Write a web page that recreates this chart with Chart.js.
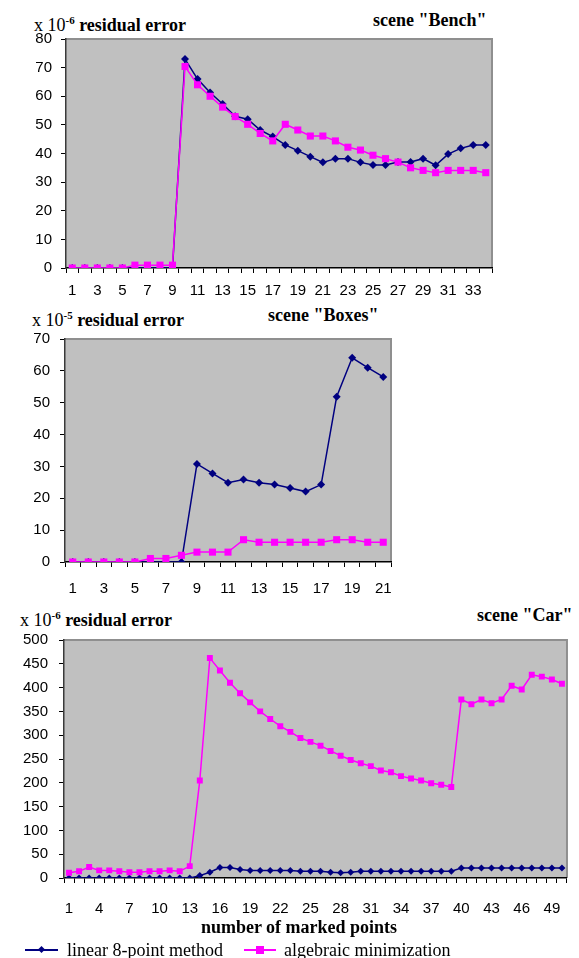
<!DOCTYPE html>
<html>
<head>
<meta charset="utf-8">
<script src="https://cdn.jsdelivr.net/npm/chart.js@4.4.1/dist/chart.umd.min.js"></script>
<style>
  html, body { margin: 0; padding: 0; background: #fff; }
  body { width: 579px; height: 958px; position: relative; overflow: hidden; }
  .box { position: absolute; }
  .txt { position: absolute; font-family: "Liberation Serif", "DejaVu Serif", serif; font-size: 18px; line-height: 18px; color: #000; white-space: nowrap; }
  .txt sup { font-size: 11px; font-weight: bold; vertical-align: 7px; }
  .bold { font-weight: bold; }
  .lg-line { position: absolute; height: 2px; }
  .lg-mark { position: absolute; }
</style>
</head>
<body>

<div class="txt" style="left:34px; top:11px;">x 10<sup>-6</sup> <b>residual error</b></div>
<div class="txt bold" style="left:373px; top:11px;">scene "Bench"</div>
<div class="box" style="left:0; top:0; width:579px; height:300px;"><canvas id="bench"></canvas></div>

<div class="txt" style="left:32px; top:306px;">x 10<sup>-5</sup> <b>residual error</b></div>
<div class="txt bold" style="left:268px; top:306px;">scene "Boxes"</div>
<div class="box" style="left:0; top:320px; width:420px; height:275px;"><canvas id="boxes"></canvas></div>

<div class="txt" style="left:20px; top:606px;">x 10<sup>-6</sup> <b>residual error</b></div>
<div class="txt bold" style="left:477px; top:606px;">scene "Car"</div>
<div class="box" style="left:0; top:620px; width:579px; height:300px;"><canvas id="car"></canvas></div>

<div class="txt bold" style="left:0; width:598px; text-align:center; top:918px;">number of marked points</div>

<div class="lg-line" style="left:25px; top:949px; width:33px; background:#000080;"></div>
<div class="lg-mark" style="left:39px; top:947px; width:5px; height:5px; background:#000080; transform:rotate(45deg);"></div>
<div class="txt" style="left:67px; top:941px;">linear 8-point method</div>
<div class="lg-line" style="left:244px; top:949px; width:32px; background:#ff00ff;"></div>
<div class="lg-mark" style="left:256px; top:946px; width:8px; height:8px; background:#ff00ff;"></div>
<div class="txt" style="left:284px; top:941px;">algebraic minimization</div>

<script>
// scene "Bench" (x 10^-6)
const benchPoints = [1, 2, 3, 4, 5, 6, 7, 8, 9, 10, 11, 12, 13, 14, 15, 16, 17, 18, 19, 20,
  21, 22, 23, 24, 25, 26, 27, 28, 29, 30, 31, 32, 33, 34];
const benchLinear = [0, 0, 0, 0, 0, 0, 0, 0, 0, 73, 66, 61.3, 57.3, 53, 52, 48.2, 45.9, 43, 41, 38.9,
  36.9, 38.2, 38.2, 36.9, 36, 36, 37, 37, 38.2, 35.9, 39.8, 41.8, 43, 43];
const benchAlgebraic = [0, 0, 0, 0, 0, 1, 1, 1, 1, 70.4, 64, 60, 56.2, 52.9, 50.2, 47, 44.4, 50.2, 48.2, 46.1,
  46.1, 44.4, 42.2, 41.2, 39.4, 38.2, 37, 35, 34.1, 33.3, 34.1, 34.1, 34.1, 33.3];

// scene "Boxes" (x 10^-5)
const boxesPoints = [1, 2, 3, 4, 5, 6, 7, 8, 9, 10, 11, 12, 13, 14, 15, 16, 17, 18, 19, 20, 21];
const boxesLinear = [0, 0, 0, 0, 0, 0, 0, 0, 30.8, 27.8, 24.9, 25.9, 24.9, 24.3, 23.2, 22.1, 24.3, 51.9, 64.1, 61, 58.1];
const boxesAlgebraic = [0, 0, 0, 0, 0, 1.1, 1.1, 2.1, 3.1, 3.1, 3.1, 7, 6.2, 6.2, 6.2, 6.2, 6.2, 7, 7, 6.2, 6.2];

// scene "Car" (x 10^-6)
const carPoints = [1, 2, 3, 4, 5, 6, 7, 8, 9, 10, 11, 12, 13, 14, 15, 16, 17, 18, 19, 20,
  21, 22, 23, 24, 25, 26, 27, 28, 29, 30, 31, 32, 33, 34, 35, 36, 37, 38, 39, 40,
  41, 42, 43, 44, 45, 46, 47, 48, 49, 50];
const carLinear = [0, 0, 0, 0, 0, 0, 0, 0, 0, 0, 0, 0, 0, 5, 12, 22, 22, 18, 16, 16,
  16, 16, 16, 14, 14, 14, 12, 11, 12, 14, 14, 14, 14, 14, 14, 14, 14, 14, 14, 21,
  21, 21, 21, 21, 21, 21, 21, 21, 21, 21];
const carAlgebraic = [11, 14, 23, 16, 16, 14, 12, 12, 14, 14, 16, 14, 25, 205, 462, 436, 410, 388, 369, 350,
  334, 319, 307, 294, 286, 278, 267, 257, 248, 241, 235, 226, 222, 214, 209, 205, 199, 196, 191, 375,
  365, 375, 367, 375, 404, 396, 427, 423, 417, 408];

const NAVY = '#000080';
const MAGENTA = '#ff00ff';

// gray plot area with a light frame on top/right, like the old spreadsheet charts
const plotFrame = {
  id: 'plotFrame',
  beforeDraw(chart) {
    const { ctx, chartArea: a } = chart;
    ctx.save();
    ctx.fillStyle = '#c0c0c0';
    ctx.fillRect(a.left, a.top, a.width, a.height);
    ctx.strokeStyle = '#8f8f8f';
    ctx.lineWidth = 2;
    ctx.beginPath();
    ctx.moveTo(a.left, a.top);
    ctx.lineTo(a.right, a.top);
    ctx.lineTo(a.right, a.bottom);
    ctx.stroke();
    ctx.restore();
  }
};

function makeChart(id, labels, linear, algebraic, cfg) {
  const ctx = document.getElementById(id).getContext('2d');
  return new Chart(ctx, {
    type: 'line',
    data: {
      labels,
      datasets: [
        {
          label: 'linear 8-point method',
          data: linear,
          order: 1,
          borderColor: NAVY,
          backgroundColor: NAVY,
          borderWidth: 1.5,
          pointStyle: 'rectRot',
          pointRadius: cfg.diamond,
          pointBorderWidth: 0,
          tension: 0,
          fill: false,
        },
        {
          label: 'algebraic minimization',
          data: algebraic,
          order: 0,
          borderColor: MAGENTA,
          backgroundColor: MAGENTA,
          borderWidth: 1.5,
          pointStyle: 'rect',
          pointRadius: cfg.square,
          pointBorderWidth: 0,
          tension: 0,
          fill: false,
        },
      ],
    },
    options: {
      responsive: true,
      maintainAspectRatio: false,
      animation: false,
      layout: { padding: { top: cfg.top, right: cfg.right, left: 0, bottom: 0 } },
      plugins: { legend: { display: false }, tooltip: { enabled: false } },
      scales: {
        x: {
          type: 'category',
          offset: true,
          afterFit: (s) => { s.height = cfg.xh; },
          border: { color: '#000', width: 1.5 },
          grid: { drawOnChartArea: false, drawTicks: true, tickLength: 5, color: '#000', tickColor: '#000', offset: true },
          ticks: {
            autoSkip: false, maxRotation: 0, minRotation: 0, padding: cfg.xpad,
            color: '#000', font: { family: 'Liberation Sans', size: 15 },
            callback: (v, i) => (i % cfg.every === 0 ? labels[i] : ''),
          },
        },
        y: {
          min: 0, max: cfg.max,
          afterFit: (s) => { s.width = cfg.yw; },
          border: { color: '#3a3a3a', width: 1.5 },
          grid: { drawOnChartArea: false, drawTicks: true, tickLength: 5, color: '#000', tickColor: '#000' },
          ticks: { stepSize: cfg.step, padding: cfg.ypad, color: '#000', font: { family: 'Liberation Sans', size: 15 } },
        },
      },
    },
    plugins: [plotFrame],
  });
}

makeChart('bench', benchPoints, benchLinear, benchAlgebraic,
  { top: 39, right: 87, yw: 66, xh: 32, xpad: 9, ypad: 9, max: 80, step: 10, every: 2, diamond: 4, square: 5 });
makeChart('boxes', boxesPoints, boxesLinear, boxesAlgebraic,
  { top: 14, right: 29, yw: 65, xh: 33, xpad: 13, ypad: 10, max: 70, step: 10, every: 2, diamond: 4, square: 5 });
makeChart('car', carPoints, carLinear, carAlgebraic,
  { top: 14, right: 6, yw: 64, xh: 42, xpad: 17, ypad: 11, max: 500, step: 50, every: 3, diamond: 3.5, square: 4.2 });
</script>
</body>
</html>
